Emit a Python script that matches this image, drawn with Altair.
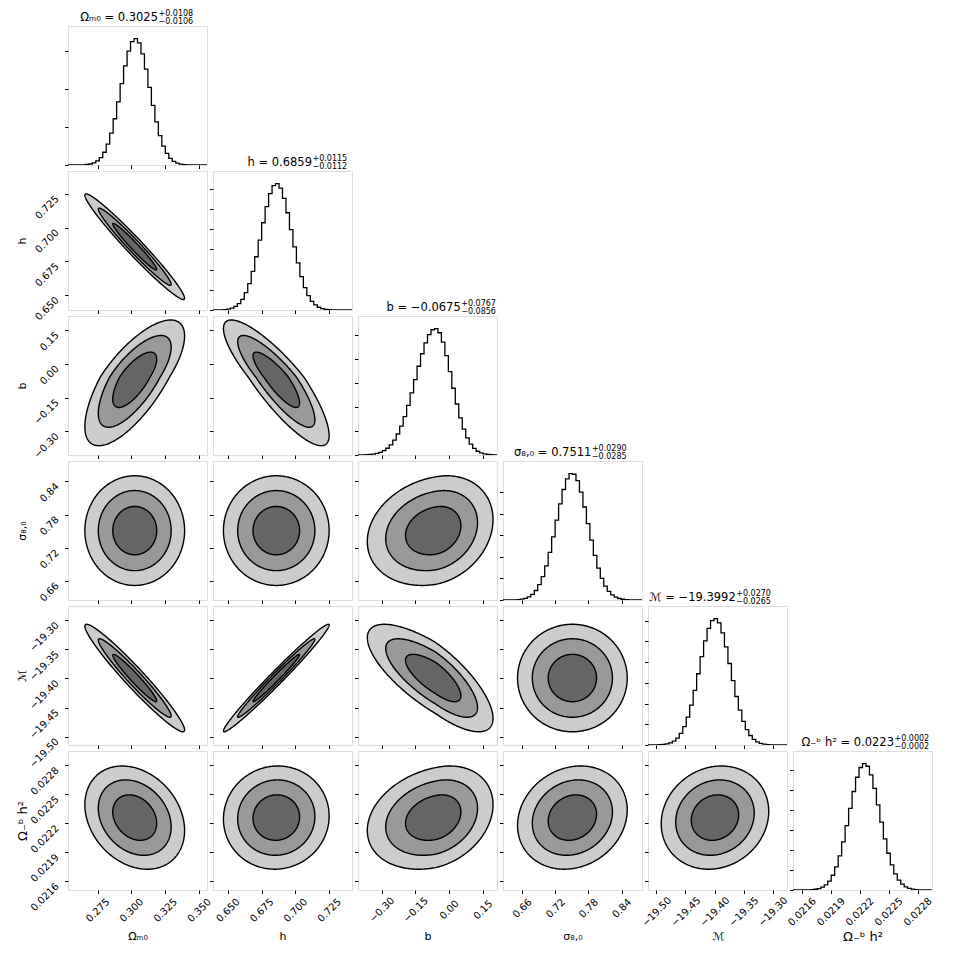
import altair as alt
import numpy as np
import pandas as pd

# ---------------- data ----------------
names = ["Ωₘ₀", "h", "b", "σ₈,₀", "ℳ", "Ω₋ᵇ h²"]
title_main = ["Ωₘ₀ = 0.3025", "h = 0.6859", "b = −0.0675", "σ₈,₀ = 0.7511",
              "ℳ = −19.3992", "Ω₋ᵇ h² = 0.0223"]
title_plus = ["+0.0108", "+0.0115", "+0.0767", "+0.0290", "+0.0270", "+0.0002"]
title_minus = ["−0.0106", "−0.0112", "−0.0856", "−0.0285", "−0.0265", "−0.0002"]

domains = [[0.2531, 0.3560], [0.6390, 0.7420], [-0.405, 0.213],
           [0.6256, 0.8770], [-19.5144, -19.2753], [0.02151, 0.02295]]
ticks = [[0.275, 0.300, 0.325, 0.350],
         [0.650, 0.675, 0.700, 0.725],
         [-0.30, -0.15, 0.00, 0.15],
         [0.66, 0.72, 0.78, 0.84],
         [-19.50, -19.45, -19.40, -19.35, -19.30],
         [0.0216, 0.0219, 0.0222, 0.0225, 0.0228]]
fmts = [".3f", ".3f", ".2f", ".2f", ".2f", ".4f"]

# posterior summaries used for the 2D credible contours
centers = [0.3025, 0.6859, -0.060, 0.7511, -19.3992, 0.02226]
sig_lo = [0.0107, 0.01135, 0.088, 0.02875, 0.0268, 0.000155]
sig_hi = [0.0107, 0.01135, 0.074, 0.02875, 0.0268, 0.000155]
corr = {(1, 0): -0.975,
        (2, 0): 0.72, (2, 1): -0.85,
        (3, 0): 0.00, (3, 1): 0.00, (3, 2): 0.20,
        (4, 0): -0.965, (4, 1): 0.985, (4, 2): -0.75, (4, 3): 0.00,
        (5, 0): -0.25, (5, 1): 0.03, (5, 2): 0.25, (5, 3): 0.15, (5, 4): 0.12}
contour_radii = [3.45, 2.52, 1.52]          # 99.7 %, 95 %, 68 % (outer -> inner)
contour_fill = ["#cccccc", "#999999", "#666666"]

# 40-bin marginal histograms (counts)
hist_counts = [
    [0, 0, 2, 6, 16, 38, 81, 167, 320, 590, 1010, 1650, 2530, 3660, 5000, 6440, 7840,
     9010, 9770, 10000, 9660, 8800, 7580, 6150, 4720, 3410, 2330, 1500, 914, 525, 284,
     145, 70, 32, 14, 6, 2, 1, 0, 0],
    [3, 7, 20, 45, 94, 185, 349, 623, 1059, 1709, 2616, 3808, 5263, 6913, 8625, 10213,
     11500, 12300, 12490, 12050, 11035, 9610, 7940, 6240, 4654, 3295, 2220, 1419, 861,
     497, 273, 142, 70, 33, 15, 6, 3, 1, 0, 0],
    [7, 13, 25, 46, 80, 137, 225, 361, 560, 843, 1232, 1744, 2396, 3189, 4118, 5154,
     6256, 7366, 8407, 9306, 9989, 10398, 10490, 10150, 9365, 8242, 6922, 5543, 4234,
     3083, 2143, 1421, 899, 542, 312, 171, 89, 45, 21, 10],
    [1, 4, 8, 19, 40, 82, 160, 297, 525, 885, 1422, 2180, 3181, 4429, 5871, 7422, 8944,
     10278, 11257, 11753, 11694, 11098, 10036, 8650, 7105, 5570, 4157, 2960, 2008, 1298,
     801, 471, 264, 141, 72, 35, 16, 7, 3, 1],
    [2, 5, 11, 24, 52, 106, 206, 381, 667, 1115, 1773, 2680, 3855, 5277, 6873, 8516,
     10036, 11254, 12005, 12188, 11770, 10815, 9455, 7860, 6218, 4680, 3355, 2285, 1481,
     914, 536, 299, 159, 80, 39, 18, 8, 3, 1, 0],
    [0, 1, 3, 6, 15, 34, 73, 147, 282, 516, 893, 1469, 2297, 3407, 4796, 6413, 8147,
     9817, 11238, 12210, 12597, 12338, 11474, 10131, 8490, 6758, 5106, 3665, 2498, 1615,
     990, 577, 320, 168, 84, 40, 18, 8, 3, 1],
]
hist_yticks = [[0, 3000, 6000, 9000],
               [0, 2000, 4000, 6000, 8000, 10000, 12000],
               [0, 2000, 4000, 6000, 8000, 10000],
               [0, 2000, 4000, 6000, 8000, 10000],
               [0, 2000, 4000, 6000, 8000, 10000, 12000],
               [0, 2000, 4000, 6000, 8000, 10000, 12000]]

# ---------------- styling ----------------
W = 139
H = 139
FONT = "DejaVu Sans"
x_label_pad = [16.5, 16.5, 16, 14.5, 18, 18]
title_anchor = [90, 99, 102.7, 88.4, 87.7, 101]
axis_title_size = [11, 11, 11, 11, 11, 13]
n = len(names)


def x_axis(j, show):
    kw = dict(values=ticks[j], format=fmts[j], labels=show, domain=False, grid=False,
              tickSize=3.5, tickColor="black", tickWidth=1, labelAngle=-45,
              labelAlign="center", labelBaseline="middle", labelPadding=x_label_pad[j],
              labelFont=FONT, labelFontSize=10, labelColor="black", labelFlush=False,
              labelOverlap=False, labelBound=False)
    if show:
        kw.update(titleFont=FONT, titleFontSize=axis_title_size[j], titleFontWeight="normal",
                  titleColor="black", titleX=W / 2, titleY=46, titleAlign="center",
                  titleBaseline="middle", titleAngle=0)
    return alt.Axis(**kw)


def y_axis(i, show, values=None, fmt=None):
    kw = dict(values=values if values is not None else ticks[i], labels=show, domain=False,
              grid=False, tickSize=3.5, tickColor="black", tickWidth=1, labelAngle=-45,
              labelAlign="right", labelBaseline="middle", labelPadding=7.5, labelOffset=3,
              labelFont=FONT, labelFontSize=10, labelColor="black", labelFlush=False,
              labelOverlap=False, labelBound=False)
    if fmt:
        kw["format"] = fmt
    elif values is None:
        kw["format"] = fmts[i]
    if show:
        kw.update(titleFont=FONT, titleFontSize=axis_title_size[i], titleFontWeight="normal",
                  titleColor="black", titleX=-46, titleY=H / 2, titleAlign="center",
                  titleBaseline="middle", titleAngle=-90)
    return alt.Axis(**kw)


def side_scale(val, k):
    return centers[k] + np.where(val < 0, val * sig_lo[k], val * sig_hi[k])


def contour_panel(i, j):
    rho = corr[(i, j)]
    layers = []
    t = np.linspace(0, np.pi, 161)
    for r, col in zip(contour_radii, contour_fill):
        u = r * np.cos(t)
        w = np.sqrt(np.clip((1 - rho ** 2) * (r ** 2 - u ** 2), 0, None))
        df = pd.DataFrame({"x": side_scale(u, j),
                           "y": side_scale(rho * u + w, i),
                           "y2": side_scale(rho * u - w, i)})
        layers.append(
            alt.Chart(df).mark_area(fill=col, stroke="black", strokeWidth=1.4, clip=True,
                                    opacity=1).encode(
                x=alt.X("x:Q", scale=alt.Scale(domain=domains[j], nice=False, zero=False),
                        axis=x_axis(j, i == n - 1), title=names[j] if i == n - 1 else None),
                y=alt.Y("y:Q", scale=alt.Scale(domain=domains[i], nice=False, zero=False),
                        axis=y_axis(i, j == 0), title=names[i] if j == 0 else None),
                y2="y2:Q",
            )
        )
    return alt.layer(*layers).properties(width=W, height=H)


def hist_panel(k):
    c = hist_counts[k]
    nb = len(c)
    edges = np.linspace(domains[k][0], domains[k][1], nb + 1)
    xs = [edges[0]] + list(edges[:nb]) + [edges[nb], edges[nb]]
    ys = [0] + list(c) + [c[-1], 0]
    df = pd.DataFrame({"x": xs, "y": ys, "o": range(len(xs))})
    ymax = 1.1 * max(c)
    line = alt.Chart(df).mark_line(color="black", strokeWidth=1.3, interpolate="step-after",
                                   clip=True).encode(
        x=alt.X("x:Q", scale=alt.Scale(domain=domains[k], nice=False, zero=False),
                axis=x_axis(k, k == n - 1), title=names[k] if k == n - 1 else None),
        y=alt.Y("y:Q", scale=alt.Scale(domain=[0, ymax], nice=False, zero=False),
                axis=y_axis(k, False, values=hist_yticks[k]), title=None),
        order="o:Q",
    )
    X = title_anchor[k]
    main = alt.Chart(pd.DataFrame({"t": [title_main[k]]})).mark_text(
        align="right", baseline="alphabetic", font=FONT, fontSize=11.5, color="black"
    ).encode(text="t:N", x=alt.value(X), y=alt.value(-5))
    sup = alt.Chart(pd.DataFrame({"t": [title_plus[k]]})).mark_text(
        align="left", baseline="alphabetic", font=FONT, fontSize=8, color="black"
    ).encode(text="t:N", x=alt.value(X + 0.5), y=alt.value(-10.5))
    sub = alt.Chart(pd.DataFrame({"t": [title_minus[k]]})).mark_text(
        align="left", baseline="alphabetic", font=FONT, fontSize=8, color="black"
    ).encode(text="t:N", x=alt.value(X + 0.5), y=alt.value(-2.5))
    return alt.layer(line, main, sup, sub).properties(width=W, height=H)


def blank_panel():
    return alt.Chart(pd.DataFrame({"a": [0]})).mark_point(opacity=0).encode(
        x=alt.X("a:Q", axis=None), y=alt.Y("a:Q", axis=None)
    ).properties(width=W, height=H, view=alt.ViewBackground(strokeOpacity=0))


cells = []
for i in range(n):
    for j in range(n):
        if j < i:
            cells.append(contour_panel(i, j))
        elif j == i:
            cells.append(hist_panel(i))
        else:
            cells.append(blank_panel())

chart = alt.concat(*cells, columns=n, spacing=6, bounds="flush").properties(
    padding={"left": 7, "top": 1, "right": 5, "bottom": 5}
).configure_view(stroke="black", strokeWidth=1).configure(background="white")

chart.save("out.html", embed_options={"renderer": "svg", "actions": False})
